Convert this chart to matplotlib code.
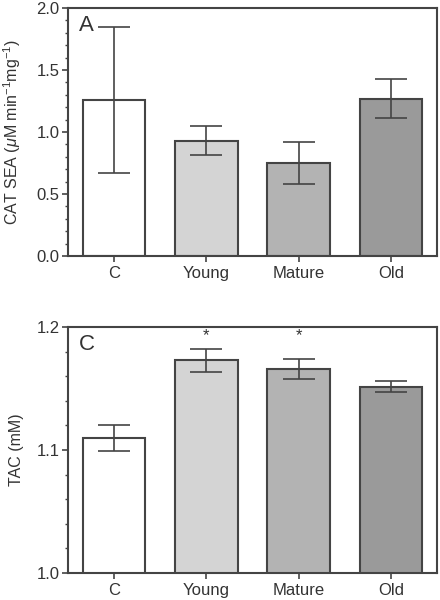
import numpy as np
import matplotlib
matplotlib.use('Agg')
import matplotlib.pyplot as plt
from matplotlib.ticker import MultipleLocator

plt.rcParams['font.family'] = ['Liberation Sans', 'DejaVu Sans']
plt.rcParams['mathtext.fontset'] = 'custom'
plt.rcParams['mathtext.rm'] = 'Liberation Sans'
plt.rcParams['mathtext.it'] = 'Liberation Sans:italic'

groups = ['C', 'Young', 'Mature', 'Old']
colors = ['#ffffff', '#d4d4d4', '#b3b3b3', '#9a9a9a']

cat_mean = [1.26, 0.93, 0.75, 1.27]
cat_err = [0.59, 0.117, 0.17, 0.16]

tac_mean = [1.1095, 1.173, 1.166, 1.1515]
tac_err = [0.0105, 0.0095, 0.008, 0.0045]
tac_sig = [False, True, True, False]

ink = '#444444'
txt = '#333333'

fig = plt.figure(figsize=(4.4, 6), dpi=100)
ax1 = fig.add_axes([68/440, 1-256/600, 369/440, 248/600])
ax2 = fig.add_axes([68/440, 1-573/600, 369/440, 246/600])

x = np.arange(len(groups))

for ax, mean, err in [(ax1, cat_mean, cat_err), (ax2, tac_mean, tac_err)]:
    ax.bar(x, mean, width=0.68, color=colors, edgecolor=ink, linewidth=1.5, zorder=2)
    ax.errorbar(x, mean, yerr=err, fmt='none', ecolor=ink, elinewidth=1.2,
                capsize=11.5, capthick=1.2, zorder=3)
    ax.set_xlim(-0.5, 3.5)
    ax.set_xticks(x)
    ax.set_xticklabels(groups)
    for s in ax.spines.values():
        s.set_color(ink)
        s.set_linewidth(1.5)
    ax.tick_params(axis='both', colors=ink, labelcolor=txt, labelsize=12,
                   direction='out', width=1.2, length=4)
    ax.tick_params(axis='y', which='minor', direction='out', width=1, length=2.5, colors=ink)
    ax.tick_params(axis='x', pad=3)
    ax.tick_params(axis='y', pad=2)

ax1.set_ylim(0, 2.0)
ax1.yaxis.set_major_locator(MultipleLocator(0.5))
ax1.yaxis.set_minor_locator(MultipleLocator(0.1))
ax1.set_yticklabels([f'{v:.1f}' for v in ax1.get_yticks()])
ax1.set_ylabel(r'CAT SEA ($\mu$M min$^{-1}$mg$^{-1}$)', fontsize=11.5, color=txt)
ax1.yaxis.set_label_coords(-45/369, 0.5)
ax1.text(0.03, 0.97, 'A', transform=ax1.transAxes, fontsize=16, color=txt, va='top', ha='left')

ax2.set_ylim(1.0, 1.2)
ax2.yaxis.set_major_locator(MultipleLocator(0.1))
ax2.yaxis.set_minor_locator(MultipleLocator(0.02))
ax2.set_yticklabels([f'{v:.1f}' for v in ax2.get_yticks()])
ax2.set_ylabel('TAC (mM)', fontsize=11.5, color=txt)
ax2.yaxis.set_label_coords(-44/369, 0.5)
ax2.text(0.03, 0.97, 'C', transform=ax2.transAxes, fontsize=16, color=txt, va='top', ha='left')

for xi, m, e, s in zip(x, tac_mean, tac_err, tac_sig):
    if s:
        ax2.text(xi, 1.187, '*', ha='center', va='bottom', fontsize=12, color=txt)

fig.savefig('out.png', dpi=100)
